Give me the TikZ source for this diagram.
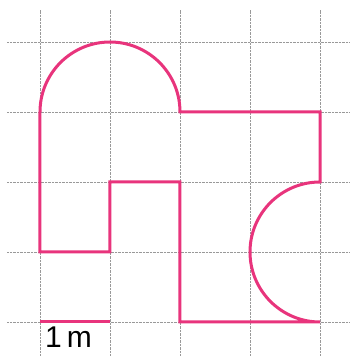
\documentclass[tikz,border=0pt]{standalone}
\usepackage{fontspec}
\setmainfont{Liberation Sans}
\definecolor{plotpink}{RGB}{232,52,124}
\tikzset{
  gridline/.style={color=black!40, line width=0.8pt, dash pattern=on 0.9pt off 0.5pt},
  outline/.style={color=plotpink, line width=3pt, line join=miter},
}
\begin{document}
\begin{tikzpicture}[x=70pt,y=70pt]
\useasboundingbox (-0.5714,-0.4857) rectangle (4.4286,4.6);

% squared paper
\foreach \i in {0,...,4} {
  \draw [gridline] (\i,-0.4857) -- (\i,4.457);
  \draw [gridline] (-0.471,\i) -- (4.4286,\i);
}

% the plot
\coordinate (A) at (0,3);
\coordinate (B) at (2,3);
\coordinate (C) at (4,3);
\coordinate (D) at (4,2);
\coordinate (E) at (4,0);
\coordinate (F) at (2,0);
\coordinate (G) at (2,2);
\coordinate (H) at (1,2);
\coordinate (K) at (1,1);
\coordinate (L) at (0,1);
\draw [outline] (A) arc (180:0:1) -- (C) -- (D) arc (90:270:1) -- (F) -- (G) -- (H) -- (K) -- (L) -- cycle;

% scale
\coordinate (S0) at (0,0);
\coordinate (S1) at (1,0);
\draw [outline] (S0) -- (S1);
\node (scale) [anchor=base west, inner sep=0pt, font=\fontsize{30}{36}\selectfont] at (0.07,-0.37) {1\,m};
\end{tikzpicture}
\end{document}
